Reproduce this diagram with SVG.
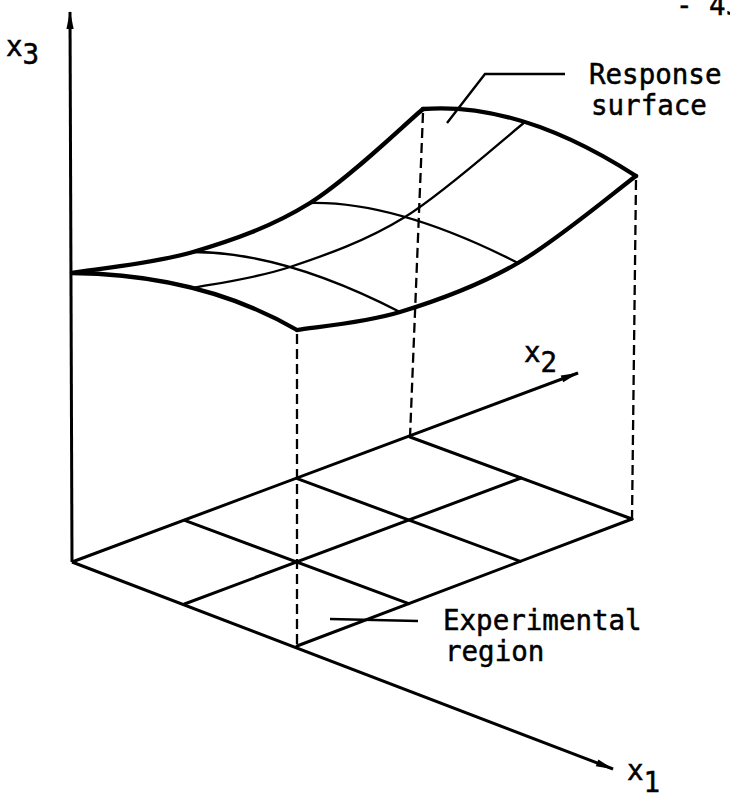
<svg xmlns="http://www.w3.org/2000/svg" width="730" height="795" viewBox="0 0 730 795">
<style>
.bg{fill:#fff}
.ax{stroke:#000;stroke-width:3;fill:none}
.grid{stroke:#000;stroke-width:3;fill:none;stroke-linecap:round}
.edge{stroke:#000;stroke-width:4.3;fill:none;stroke-linecap:round}
.thin{stroke:#000;stroke-width:2.3;fill:none;stroke-linecap:round}
.dash{stroke:#000;stroke-width:2.3;fill:none;stroke-dasharray:10 5}
.lead{stroke:#000;stroke-width:2.4;fill:none}
text{font-family:"DejaVu Sans Mono","Liberation Mono",monospace;font-size:27.5px;fill:#000;stroke:#000;stroke-width:0.5}
</style>
<defs>
<marker id="arr" viewBox="0 0 20 10" refX="19" refY="5" markerWidth="20" markerHeight="9" markerUnits="userSpaceOnUse" orient="auto">
<path d="M0,1 L20,5 L0,9 Z" fill="#000"/>
</marker>
</defs>
<rect class="bg" x="0" y="0" width="730" height="795"/>

<g id="axes">
<line id="axis-x3" class="ax" x1="72" y1="562" x2="70" y2="12" marker-end="url(#arr)"/>
<line id="axis-x2" class="ax" x1="72" y1="562" x2="578" y2="373" marker-end="url(#arr)"/>
<line id="axis-x1" class="ax" x1="72" y1="562" x2="613" y2="769" marker-end="url(#arr)"/>
</g>

<g id="experimental-region">
<line class="grid" x1="297" y1="646" x2="632" y2="519"/>
<line class="grid" x1="410" y1="437" x2="632" y2="519"/>
<line class="grid" x1="184.5" y1="604" x2="521" y2="478"/>
<line class="grid" x1="184.7" y1="520.3" x2="408.7" y2="603.7"/>
<line class="grid" x1="297.3" y1="478.7" x2="520.3" y2="561.3"/>
</g>

<g id="response-surface">
<path class="edge" d="M72,273 C92.2,269.5 153.3,263.7 193,252 C232.7,240.3 271.7,226.8 310,203 C348.3,179.2 404.2,124.7 423,109"/>
<path class="thin" d="M193,288 C209.2,284.5 254.7,278.8 290,267 C325.3,255.2 365.8,241.2 405,217 C444.2,192.8 505,137.8 525,122"/>
<path class="edge" d="M297,330 C314.2,327 363.2,323.2 400,312 C436.8,300.8 478.7,285.7 518,263 C557.3,240.3 616.3,190.5 636,176"/>
<path class="edge" d="M72,273 Q201.5,274.5 297,330"/>
<path class="thin" d="M193,252 Q283.5,252 400,312"/>
<path class="thin" d="M310,203 Q396,201 518,263"/>
<path class="edge" d="M423,109 Q520.5,101.5 636,176"/>
</g>

<g id="connectors">
<line class="dash" x1="297" y1="334" x2="297" y2="646"/>
<line class="dash" x1="423" y1="113" x2="410" y2="437"/>
<line class="dash" x1="636" y1="180" x2="632" y2="519"/>
<polyline id="leader-surface" class="lead" points="447,123 485,74 565,74"/>
<line id="leader-region" class="lead" x1="330" y1="619" x2="418" y2="621"/>
</g>

<g id="labels">
<text id="label-x3" x="6" y="56">x<tspan dy="8">3</tspan></text>
<text id="label-x2" x="524" y="362">x<tspan dy="10">2</tspan></text>
<text id="label-x1" x="627" y="780">x<tspan dy="12">1</tspan></text>
<text id="label-surface" x="589" y="84">Response</text>
<text x="591" y="115">surface</text>
<text id="label-region" x="443" y="630">Experimental</text>
<text x="445" y="661">region</text>
<text id="page-number" x="676" y="15">- 43</text>
</g>
</svg>
